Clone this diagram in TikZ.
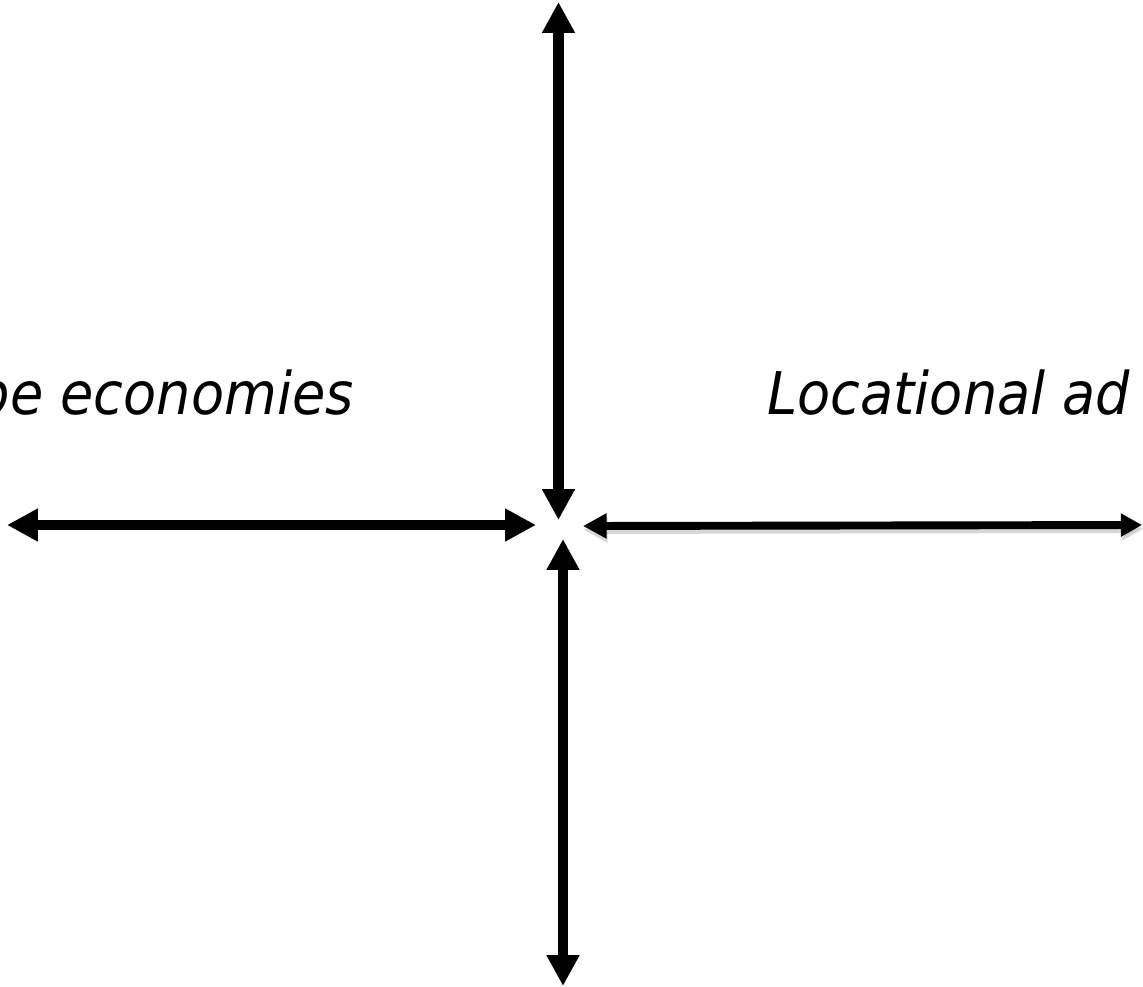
\documentclass[tikz,border=0pt]{standalone}
\usepackage{fontspec}
\setmainfont{DejaVu Sans}[FakeStretch=0.92]
\usetikzlibrary{arrows.meta}
\begin{document}
\begin{tikzpicture}[x=0.02cm, y=-0.02cm]
    % 定义样式
    \tikzstyle{axis}=[line width=5.9pt, {Triangle[length=17.6pt, width=17.6pt]}-{Triangle[length=17.6pt, width=17.6pt]}]
    \tikzstyle{thinaxis}=[line width=4.5pt, {Triangle[length=13.5pt, width=13.6pt]}-{Triangle[length=12pt, width=12.5pt]}]
    \tikzstyle{shade}=[black!40, opacity=0.4]
    \tikzstyle{axislabel}=[inner sep=0pt, font=\fontsize{33.5}{39}\selectfont\itshape]

    % 画布大小
    \useasboundingbox (0,0) rectangle (1143,987);
    \clip (0,0) rectangle (1143,987);

    % 1. 箭头端点
    \coordinate (n) at (558.5,2);
    \coordinate (nc) at (558.5,520);
    \coordinate (sc) at (563,539);
    \coordinate (s) at (563,986);
    \coordinate (w) at (7,525);
    \coordinate (wc) at (536,525);
    \coordinate (ec) at (583,526);
    \coordinate (e) at (1142,525);

    % 2. 四个双向箭头
    \draw[axis] (n) -- (nc);
    \draw[axis] (sc) -- (s);
    \draw[axis] (w) -- (wc);
    % 右边的箭头带阴影
    \draw[thinaxis, shade] ([shift={(1,4)}]ec) -- ([shift={(1,4)}]e);
    \draw[thinaxis] (ec) -- (e);

    % 3. 文字
    \node[axislabel, anchor=base east] (scope) at (354,414) {pe economies};
    \node[axislabel, anchor=base west] (loc) at (767,414) {Locational ad};
\end{tikzpicture}
\end{document}
